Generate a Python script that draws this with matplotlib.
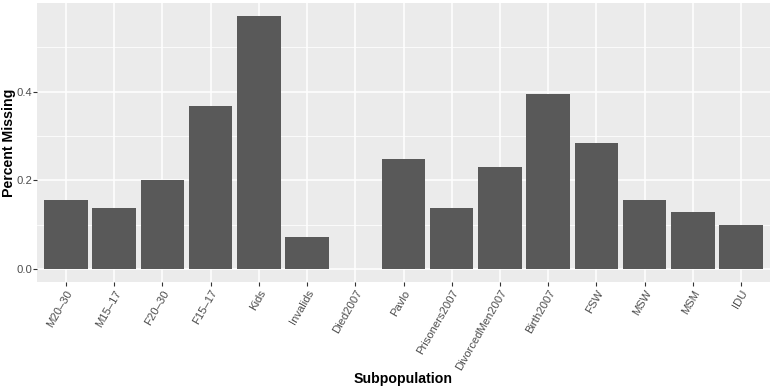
import matplotlib
matplotlib.use("Agg")
import matplotlib.pyplot as plt
import numpy as np

categories = ["M20\u201330", "M15\u201317", "F20\u201330", "F15\u201317", "Kids", "Invalids", "Died2007",
              "Pavlo", "Prisoners2007", "DivorcedMen2007", "Birth2007", "FSW", "MSW", "MSM", "IDU"]
values = [0.157, 0.139, 0.202, 0.368, 0.571, 0.073, 0.0,
          0.249, 0.139, 0.231, 0.395, 0.285, 0.157, 0.130, 0.100]
yticks = [0.0, 0.2, 0.4]
ytick_labels = ["0.0", "0.2", "0.4"]

plt.rcParams['font.family'] = ['Liberation Sans', 'DejaVu Sans']

fig = plt.figure(figsize=(7.75, 3.88), dpi=100)
L, R, T, B = 37, 770, 3, 282
ax = fig.add_axes([L/775, 1-B/388, (R-L)/775, (B-T)/388])
ax.set_facecolor('#EBEBEB')

x = np.arange(1, len(categories)+1)
ax.bar(x, values, width=0.9, color='#595959', zorder=3)

ymax = max(values)
ax.set_ylim(-0.05*ymax, 1.05*ymax)
ax.set_xlim(0.4, len(categories)+0.6)

ax.set_yticks(yticks)
ax.set_yticklabels(ytick_labels)
ax.set_yticks([0.1, 0.3, 0.5], minor=True)
ax.set_xticks(x)
ax.set_xticklabels(categories, rotation=60, ha='right', va='top', rotation_mode='anchor')

ax.grid(which='major', color='white', linewidth=1.1, zorder=0)
ax.grid(which='minor', axis='y', color='white', linewidth=0.55, zorder=0)
ax.set_axisbelow(True)
for s in ax.spines.values():
    s.set_visible(False)
ax.tick_params(axis='both', which='major', length=3, width=0.8, color='#333333',
               labelcolor='#4D4D4D', labelsize=8.1, pad=1.5)
ax.tick_params(axis='y', which='major', pad=0.5)
ax.tick_params(axis='y', which='minor', length=0)

ax.set_xlabel("Subpopulation", fontsize=10.2, fontweight='bold', va='center')
ax.set_ylabel("Percent Missing", fontsize=10.2, fontweight='bold', va='center')
ax.xaxis.set_label_coords(0.5, -(379-B)/(B-T))
ax.yaxis.set_label_coords(-(L-8.5)/(R-L), 0.5)

fig.savefig("out.png", dpi=100)
